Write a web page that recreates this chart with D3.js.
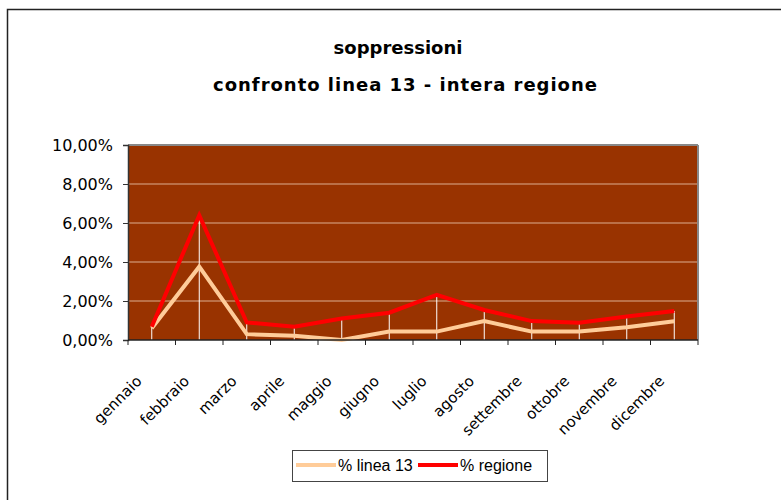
<!DOCTYPE html>
<html>
<head>
<meta charset="utf-8">
<title>soppressioni</title>
<script src="https://d3js.org/d3.v7.min.js"></script>
<style>
  body { margin: 0; background: #fff; }
  svg { display: block; }
</style>
</head>
<body>
<script>
// data
var mesi = ["gennaio", "febbraio", "marzo", "aprile", "maggio", "giugno",
            "luglio", "agosto", "settembre", "ottobre", "novembre", "dicembre"];
var linea13 = [0.0060, 0.0376, 0.0030, 0.0022, 0.0000, 0.0043,
               0.0043, 0.0097, 0.0043, 0.0043, 0.0065, 0.0096];
var regione = [0.0068, 0.0640, 0.0090, 0.0068, 0.0110, 0.0140,
               0.0232, 0.0154, 0.0097, 0.0089, 0.0120, 0.0149];
var yTicks = [0, 0.02, 0.04, 0.06, 0.08, 0.10];
var serie = [
  { name: "% linea 13", values: linea13, color: "#ffcc99" },
  { name: "% regione", values: regione, color: "#ff0000" }
];

var W = 781, H = 500;
var plot = { left: 128, right: 698, top: 145, bottom: 340 };

var svg = d3.select("body").append("svg")
    .attr("width", W)
    .attr("height", H);

// outer chart frame (runs off the right and bottom edge)
svg.append("rect")
    .attr("x", 7.5).attr("y", 9.5)
    .attr("width", 800).attr("height", 520)
    .attr("fill", "#fff")
    .attr("stroke", "#222").attr("stroke-width", 1.5);

var x = d3.scaleBand()
    .domain(mesi)
    .range([plot.left, plot.right]);

var y = d3.scaleLinear()
    .domain([0, 0.10])
    .range([plot.bottom, plot.top]);

// title
var titleFont = "'DejaVu Sans', Verdana, sans-serif";
svg.append("text")
    .attr("x", 398).attr("y", 54)
    .attr("text-anchor", "middle")
    .style("font-family", titleFont)
    .style("font-weight", "bold")
    .style("font-size", "18px")
    .text("soppressioni");
svg.append("text")
    .attr("x", 405).attr("y", 91)
    .attr("text-anchor", "middle")
    .style("font-family", titleFont)
    .style("font-weight", "bold")
    .style("font-size", "18px")
    .attr("textLength", 384)
    .text("confronto linea 13 - intera regione");

// plot background
svg.append("rect")
    .attr("x", plot.left).attr("y", plot.top)
    .attr("width", plot.right - plot.left)
    .attr("height", plot.bottom - plot.top)
    .attr("fill", "#993300");

// gridlines
svg.append("g").selectAll("line")
    .data(yTicks.slice(1))
    .enter().append("line")
    .attr("x1", plot.left).attr("x2", plot.right)
    .attr("y1", function(d) { return y(d); })
    .attr("y2", function(d) { return y(d); })
    .attr("stroke", function(d) { return d == 0.10 ? "#888" : "#dcae90"; })
    .attr("stroke-width", function(d) { return d == 0.10 ? 2 : 1; });

// right border of plot
svg.append("line")
    .attr("x1", plot.right).attr("x2", plot.right)
    .attr("y1", plot.top).attr("y2", plot.bottom)
    .attr("stroke", "#888").attr("stroke-width", 2);

// drop lines
svg.append("g").selectAll("line")
    .data(mesi)
    .enter().append("line")
    .attr("x1", function(d) { return x(d) + x.bandwidth() / 2; })
    .attr("x2", function(d) { return x(d) + x.bandwidth() / 2; })
    .attr("y1", function(d, i) { return y(Math.max(linea13[i], regione[i])); })
    .attr("y2", plot.bottom)
    .attr("stroke", "#fff")
    .attr("stroke-width", 1);

// series lines
var line = d3.line()
    .x(function(d, i) { return x(mesi[i]) + x.bandwidth() / 2; })
    .y(function(d) { return y(d); });

svg.append("g").selectAll("path")
    .data(serie)
    .enter().append("path")
    .attr("d", function(s) { return line(s.values); })
    .attr("fill", "none")
    .attr("stroke", function(s) { return s.color; })
    .attr("stroke-width", 4)
    .attr("stroke-linejoin", "miter");

// y axis
var yAxis = d3.axisLeft(y)
    .tickValues(yTicks)
    .tickSize(5)
    .tickPadding(10)
    .tickFormat(function(d) { return d3.format(".2f")(d * 100).replace(".", ",") + "%"; });

var gy = svg.append("g")
    .attr("transform", "translate(" + plot.left + ",0)")
    .call(yAxis);
gy.select(".domain").attr("stroke", "#333").attr("stroke-width", 1.5);
gy.selectAll(".tick line").attr("stroke", "#333");
gy.selectAll("text")
    .style("font-family", "'DejaVu Sans', sans-serif")
    .style("font-size", "16px")
    .attr("fill", "#000");

// x axis: ticks between categories
var gx = svg.append("g");
gx.append("line")
    .attr("x1", plot.left).attr("x2", plot.right)
    .attr("y1", plot.bottom).attr("y2", plot.bottom)
    .attr("stroke", "#222").attr("stroke-width", 1.5);
gx.selectAll(".tk")
    .data(mesi.concat(["end"]))
    .enter().append("line")
    .attr("class", "tk")
    .attr("x1", function(d, i) { return plot.left + i * x.step(); })
    .attr("x2", function(d, i) { return plot.left + i * x.step(); })
    .attr("y1", plot.bottom).attr("y2", plot.bottom + 5)
    .attr("stroke", "#222");
gx.selectAll("text")
    .data(mesi)
    .enter().append("text")
    .attr("transform", function(d) {
        return "translate(" + (x(d) + x.bandwidth() / 2 - 9) + "," + (plot.bottom + 42) + ") rotate(-45)";
    })
    .attr("text-anchor", "end")
    .style("font-family", "'DejaVu Sans', sans-serif")
    .style("font-size", "15px")
    .text(function(d) { return d; });

// legend
var lg = svg.append("g");
lg.append("rect")
    .attr("x", 292.5).attr("y", 450.5)
    .attr("width", 255).attr("height", 31)
    .attr("fill", "#fff")
    .attr("stroke", "#444");
var lgPos = [296, 418];
serie.forEach(function(s, i) {
    lg.append("line")
        .attr("x1", lgPos[i]).attr("x2", lgPos[i] + 40)
        .attr("y1", 465).attr("y2", 465)
        .attr("stroke", s.color).attr("stroke-width", 4);
    lg.append("text")
        .attr("x", lgPos[i] + 42).attr("y", 471)
        .style("font-family", "'Liberation Sans', Arial, sans-serif")
        .style("font-size", "16px")
        .text(s.name);
});
</script>
</body>
</html>
